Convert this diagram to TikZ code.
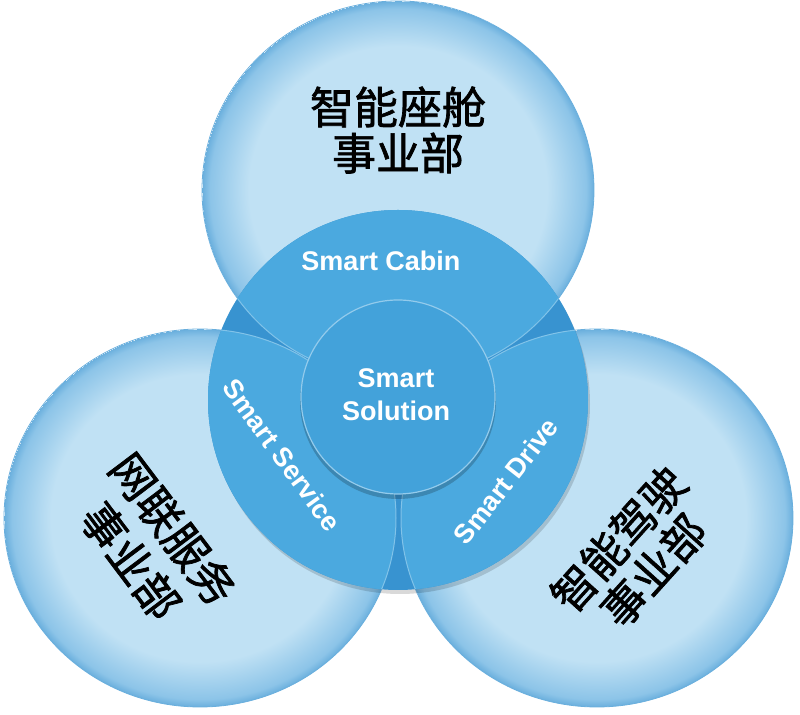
\documentclass[tikz,border=0pt]{standalone}
\usepackage{fontspec}
\setmainfont{Liberation Sans}
\newfontfamily\cjk{Noto Sans CJK SC}[RawFeature={embolden=1.6}]
\definecolor{paleblue}{HTML}{C0E1F4}
\definecolor{rimblue}{HTML}{8CC4E8}
\definecolor{edgeblue}{HTML}{6AAFDD}
\definecolor{ringdark}{HTML}{3893D0}
\definecolor{ringblue}{HTML}{4BA9DF}
\definecolor{coreblue}{HTML}{43A2DA}
\pgfdeclareradialshading{disc}{\pgfpoint{0bp}{0bp}}{color(0bp)=(paleblue); color(19bp)=(paleblue); color(24bp)=(rimblue); color(25bp)=(edgeblue)}

\begin{document}
\begin{tikzpicture}[x=.5pt,y=-.5pt,
    dept/.style={font=\cjk\fontsize{22}{#1}\selectfont,align=center},
    dept/.default=23,
    seg/.style={font=\bfseries\fontsize{13.5}{16.5}\selectfont,white,align=center}]
\useasboundingbox (0,0) rectangle (800,715);
\coordinate (top)   at (398,190);
\coordinate (left)  at (200,518);
\coordinate (right) at (597,518);
\coordinate (hub)   at (398,400);
\foreach \c in {top,left,right}
  \path[shading=disc,draw=edgeblue,line width=.4pt]
    (\c) ellipse [x radius=196,y radius=189];
\fill[black,opacity=.15] ([shift={(2,4)}]hub) circle [radius=190];
\fill[ringdark] (hub) circle [radius=190];
\begin{scope}
  \clip (hub) circle [radius=190];
  \foreach \c in {top,left,right}
    \path[fill=ringblue,draw=ringblue!70!white,line width=.5pt]
      (\c) ellipse [x radius=196,y radius=189];
\end{scope}
\fill[black,opacity=.2] (398,401) circle [radius=98];
\path[fill=coreblue,draw=ringblue!60!white,line width=.6pt] (398,397) circle [radius=97];
\path
    (381,261) node[seg] (cabin) {Smart Cabin}
    (282,455) node[seg,rotate=-54] (service) {Smart Service}
    (506,481) node[seg,rotate=52] (drive) {Smart Drive}
    (396,395) node[seg] (solution) {Smart\\Solution};
\path
    (398,130) node[dept] (cockpit) {智能座舱\\事业部}
    (152,545) node[dept=26.5,rotate=-53] (connect) {网联服务\\事业部}
    (636,555) node[dept=23.5,rotate=48] (autodrive) {智能驾驶\\事业部};
\end{tikzpicture}
\end{document}
